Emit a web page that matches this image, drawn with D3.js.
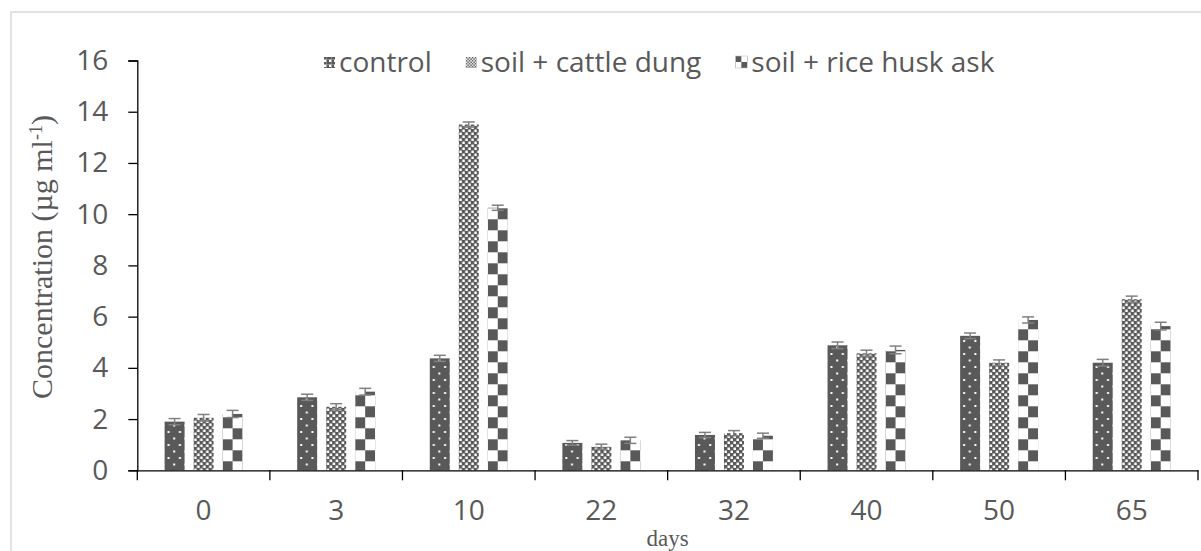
<!DOCTYPE html>
<html>
<head>
<meta charset="utf-8">
<script src="https://cdn.jsdelivr.net/npm/d3@7"></script>
<style>
	body { margin: 0; background: #fff; }
	svg { display: block; }
</style>
</head>
<body>
<svg id="chart" width="1201" height="551"></svg>
<script>
// data
days = ['0', '3', '10', '22', '32', '40', '50', '65'];
seriesNames = ['control', 'soil + cattle dung', 'soil + rice husk ask'];
control = [1.9, 2.85, 4.37, 1.07, 1.38, 4.88, 5.25, 4.2];
cattleDung = [2.05, 2.48, 13.5, 0.92, 1.45, 4.57, 4.2, 6.68];
riceHusk = [2.2, 3.07, 10.25, 1.17, 1.35, 4.7, 5.87, 5.63];
controlErr = [0.12, 0.12, 0.12, 0.09, 0.1, 0.13, 0.11, 0.13];
cattleDungErr = [0.13, 0.12, 0.1, 0.1, 0.1, 0.12, 0.11, 0.12];
riceHuskErr = [0.14, 0.13, 0.1, 0.12, 0.1, 0.15, 0.12, 0.15];
yTicks = [0, 2, 4, 6, 8, 10, 12, 14, 16];

width = 1201;
height = 551;
plotLeft = 137.3;
plotRight = 1198;
plotTop = 60.5;
plotBottom = 470.3;
dark = '#595959';
textGrey = '#595959';
sansFont = '"Open Sans", "Liberation Sans", sans-serif';
serifFont = '"Liberation Serif", "DejaVu Serif", serif';

svg = d3.select('#chart');

// chart area border
svg.append('rect')
	.attr('x', 11)
	.attr('y', 12)
	.attr('width', width)
	.attr('height', height)
	.attr('fill', 'none')
	.attr('stroke', '#d9d9d9')
	.attr('stroke-width', 1.5);

// fill patterns, one per series
defs = svg.append('defs');

p1 = defs.append('pattern')
	.attr('id', 'pat0')
	.attr('patternUnits', 'userSpaceOnUse')
	.attr('width', 11.3)
	.attr('height', 13);
p1.append('rect').attr('width', 11.3).attr('height', 13).attr('fill', dark);
p1.append('rect').attr('x', 3).attr('y', 2).attr('width', 2).attr('height', 2).attr('fill', '#fff');
p1.append('rect').attr('x', 8.6).attr('y', 8.5).attr('width', 2).attr('height', 2).attr('fill', '#fff');

p2 = defs.append('pattern')
	.attr('id', 'pat1')
	.attr('patternUnits', 'userSpaceOnUse')
	.attr('width', 6)
	.attr('height', 6);
p2.append('rect').attr('width', 6).attr('height', 6).attr('fill', dark);
p2.append('rect').attr('x', 0.5).attr('y', 0.5).attr('width', 2.5).attr('height', 2.5).attr('fill', '#fff');
p2.append('rect').attr('x', 3.5).attr('y', 3.5).attr('width', 2.5).attr('height', 2.5).attr('fill', '#fff');

p3 = defs.append('pattern')
	.attr('id', 'pat2')
	.attr('patternUnits', 'userSpaceOnUse')
	.attr('y', 21.3)
	.attr('width', 20)
	.attr('height', 22);
p3.append('rect').attr('width', 20).attr('height', 22).attr('fill', '#fff');
p3.append('rect').attr('x', 0).attr('y', 0).attr('width', 10).attr('height', 11).attr('fill', dark);
p3.append('rect').attr('x', 10).attr('y', 11).attr('width', 10).attr('height', 11).attr('fill', dark);

// smaller tiles for the legend keys
legendPat = [
	{cell: 2.5, size: 11},
	{cell: 1.5, size: 11},
	{cell: 6, size: 12}
];

// scales
x = d3.scaleBand()
	.domain(days)
	.range([plotLeft, plotRight])
	.padding(0);

groupWidth = 78;
xs = d3.scaleBand()
	.domain(seriesNames)
	.range([(x.bandwidth() - groupWidth) / 2, (x.bandwidth() + groupWidth) / 2])
	.paddingInner(9 / 29)
	.paddingOuter(0);

y = d3.scaleLinear()
	.domain([0, 16])
	.range([plotBottom, plotTop]);

// bars + error bars
seriesVals = [control, cattleDung, riceHusk];
seriesErr = [controlErr, cattleDungErr, riceHuskErr];

seriesNames.forEach(function(name, s){
	days.forEach(function(d, i){
		let bx = x(d) + xs(name);
		let v = seriesVals[s][i];
		let e = seriesErr[s][i];
		let g = svg.append('g')
			.attr('transform', `translate(${bx}, 0)`);
		g.append('rect')
			.attr('x', 0)
			.attr('y', y(v))
			.attr('width', xs.bandwidth())
			.attr('height', y(0) - y(v))
			.attr('fill', `url(#pat${s})`);
		let cx = xs.bandwidth() / 2;
		let eg = g.append('g')
			.attr('stroke', '#808080')
			.attr('stroke-width', 1.5);
		eg.append('line')
			.attr('x1', cx).attr('x2', cx)
			.attr('y1', y(v - e)).attr('y2', y(v + e));
		eg.append('line')
			.attr('x1', cx - 6).attr('x2', cx + 6)
			.attr('y1', y(v + e)).attr('y2', y(v + e));
		eg.append('line')
			.attr('x1', cx - 6).attr('x2', cx + 6)
			.attr('y1', y(v - e)).attr('y2', y(v - e));
	});
});

// y axis
yAxis = svg.append('g')
	.attr('transform', `translate(${plotLeft}, 0)`)
	.call(d3.axisLeft(y).tickValues(yTicks).tickSize(9).tickSizeOuter(9).tickPadding(20));
yAxis.select('.domain').attr('stroke', '#000').attr('stroke-width', 1.3);
yAxis.selectAll('.tick line').attr('stroke', '#000').attr('stroke-width', 1.3);
yAxis.selectAll('.tick text')
	.attr('fill', textGrey)
	.style('font-family', sansFont)
	.style('font-size', '28px');

// x axis: line, ticks on category edges, labels in the middle
xAxis = svg.append('g')
	.attr('transform', `translate(0, ${plotBottom})`)
	.call(d3.axisBottom(x).tickSize(0).tickSizeOuter(0).tickPadding(30));
xAxis.select('.domain').attr('stroke', '#000').attr('stroke-width', 1.3);
xAxis.selectAll('.tick text')
	.attr('fill', textGrey)
	.style('font-family', sansFont)
	.style('font-size', '28px');

edges = days.map(d => x(d)).concat([x(days[days.length - 1]) + x.bandwidth()]);
svg.append('g')
	.selectAll('line')
	.data(edges)
	.join('line')
		.attr('x1', d => d).attr('x2', d => d)
		.attr('y1', plotBottom).attr('y2', plotBottom + 10)
		.attr('stroke', '#000')
		.attr('stroke-width', 1.3);

// axis titles
yTitle = svg.append('text')
	.attr('transform', 'translate(52, 257) rotate(-90)')
	.attr('text-anchor', 'middle')
	.attr('fill', textGrey)
	.style('font-family', serifFont)
	.style('font-size', '30px');
yTitle.append('tspan').text('Concentration (µg ml');
yTitle.append('tspan')
	.attr('dy', -10)
	.style('font-size', '18px')
	.text('-1');
yTitle.append('tspan')
	.attr('dy', 10)
	.text(')');

svg.append('text')
	.attr('x', (plotLeft + plotRight) / 2)
	.attr('y', 546)
	.attr('text-anchor', 'middle')
	.attr('fill', textGrey)
	.style('font-family', serifFont)
	.style('font-size', '23px')
	.text('days');

// legend
legend = svg.append('g');
let lx = 324;
seriesNames.forEach(function(name, s){
	let lp = legendPat[s];
	let kp = defs.append('pattern')
		.attr('id', `key${s}`)
		.attr('patternUnits', 'userSpaceOnUse')
		.attr('width', lp.cell * 2)
		.attr('height', lp.cell * 2);
	kp.append('rect').attr('width', lp.cell * 2).attr('height', lp.cell * 2).attr('fill', '#fff');
	kp.append('rect').attr('width', lp.cell).attr('height', lp.cell).attr('fill', dark);
	kp.append('rect').attr('x', lp.cell).attr('y', lp.cell).attr('width', lp.cell).attr('height', lp.cell).attr('fill', dark);
	if(s == 0)
		kp.append('rect').attr('x', lp.cell).attr('width', lp.cell).attr('height', lp.cell).attr('fill', dark);
	let kg = legend.append('g')
		.attr('transform', `translate(${lx}, ${68 - lp.size})`);
	kg.append('rect')
		.attr('width', lp.size)
		.attr('height', lp.size)
		.attr('fill', `url(#key${s})`)
		.attr('stroke', s == 2 ? '#bfbfbf' : 'none')
		.attr('stroke-width', 0.6);
	let t = legend.append('text')
		.attr('x', lx + lp.size + 4)
		.attr('y', 72)
		.attr('fill', textGrey)
		.style('font-family', sansFont)
		.style('font-size', '28px')
		.text(name);
	lx += lp.size + 4 + t.node().getComputedTextLength() + 34;
});
</script>
</body>
</html>
